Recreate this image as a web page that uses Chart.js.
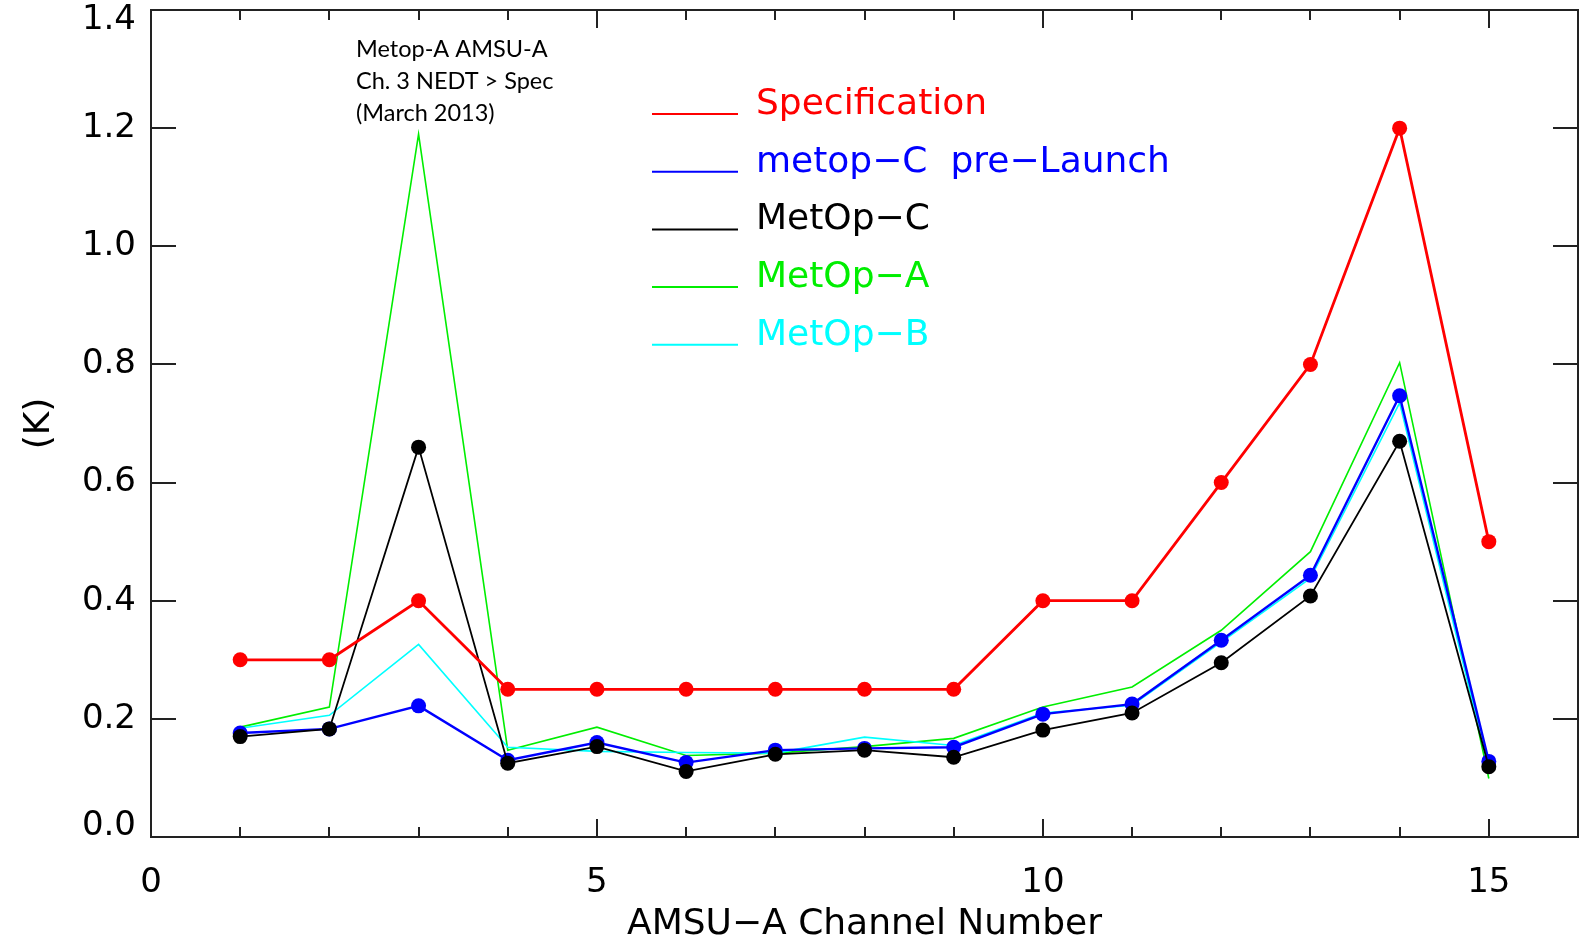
<!DOCTYPE html>
<html>
<head>
<meta charset="utf-8">
<script src="https://cdn.jsdelivr.net/npm/chart.js@4.4.1/dist/chart.umd.min.js"></script>
<style>
html, body { margin: 0; padding: 0; background: #fff; }
#wrap { width: 1580px; height: 943px; }
</style>
</head>
<body>
<div id="wrap"><canvas id="chart-nedt" width="1580" height="943"></canvas></div>
<script>
'use strict';

// Data
var channels = [1, 2, 3, 4, 5, 6, 7, 8, 9, 10, 11, 12, 13, 14, 15];
var specification = [0.30, 0.30, 0.40, 0.25, 0.25, 0.25, 0.25, 0.25, 0.25, 0.40, 0.40, 0.60, 0.80, 1.20, 0.50];
var metopCPreLaunch = [0.176, 0.183, 0.222, 0.130, 0.160, 0.126, 0.147, 0.150, 0.152, 0.208, 0.225, 0.333, 0.443, 0.747, 0.128];
var metopC = [0.170, 0.183, 0.660, 0.125, 0.153, 0.111, 0.140, 0.147, 0.135, 0.181, 0.210, 0.295, 0.408, 0.670, 0.119];
var metopA = [0.186, 0.220, 1.190, 0.147, 0.186, 0.138, 0.142, 0.153, 0.167, 0.220, 0.254, 0.350, 0.483, 0.803, 0.099];
var metopB = [0.184, 0.206, 0.326, 0.152, 0.145, 0.143, 0.142, 0.169, 0.155, 0.210, 0.223, 0.330, 0.438, 0.735, 0.116];
var xTickLabels = [0, 5, 10, 15];
var yTicks = [0, 0.2, 0.4, 0.6, 0.8, 1.0, 1.2, 1.4];
var legendLabels = ['Specification', 'metop\u2212C  pre\u2212Launch', 'MetOp\u2212C', 'MetOp\u2212A', 'MetOp\u2212B'];
var legendColors = ['#ff0000', '#0000ff', '#000000', '#00ee00', '#00ffff'];
var noteLines = ['Metop-A AMSU-A', 'Ch. 3 NEDT > Spec', '(March 2013)'];

var IDL_FONT = '"DejaVu Sans", sans-serif';

function points(values) {
	return channels.map(function (c, i) { return { x: c, y: values[i] }; });
}

function noPadding(scale) {
	scale.paddingTop = 0;
	scale.paddingBottom = 0;
	scale.paddingLeft = 0;
	scale.paddingRight = 0;
}

// Inward tick marks, frame, legend and note
var framePlugin = {
	id: 'frame',
	afterDraw: function (chart) {
		var ctx = chart.ctx;
		var a = chart.chartArea;
		var xs = chart.scales.x;
		var ys = chart.scales.y;
		ctx.save();
		ctx.strokeStyle = '#222';
		ctx.lineWidth = 2;
		ctx.strokeRect(a.left, a.top, a.right - a.left, a.bottom - a.top);
		ctx.beginPath();
		for (var i = 1; i < 16; i++) {
			var px = Math.round(xs.getPixelForValue(i));
			var len = (i % 5 === 0) ? 18 : 10;
			ctx.moveTo(px, a.bottom);
			ctx.lineTo(px, a.bottom - len);
			ctx.moveTo(px, a.top);
			ctx.lineTo(px, a.top + len);
		}
		yTicks.forEach(function (v) {
			var py = Math.round(ys.getPixelForValue(v));
			ctx.moveTo(a.left, py);
			ctx.lineTo(a.left + 25, py);
			ctx.moveTo(a.right, py);
			ctx.lineTo(a.right - 25, py);
		});
		ctx.stroke();

		// legend
		ctx.font = '36px ' + IDL_FONT;
		ctx.textBaseline = 'alphabetic';
		ctx.textAlign = 'left';
		legendLabels.forEach(function (label, i) {
			var y = 114 + i * 57.7;
			ctx.strokeStyle = legendColors[i];
			ctx.lineWidth = 2;
			ctx.beginPath();
			ctx.moveTo(652, y);
			ctx.lineTo(738, y);
			ctx.stroke();
			ctx.fillStyle = legendColors[i];
			ctx.fillText(label, 756, y);
		});

		// note
		ctx.font = '23.5px Lato, "Open Sans", sans-serif';
		ctx.fillStyle = '#000';
		noteLines.forEach(function (t, i) {
			ctx.fillText(t, 356, 57 + i * 32);
		});
		ctx.restore();
	}
};

var lineChart = new Chart(document.getElementById('chart-nedt'), {
	type: 'line',
	data: {
		datasets: [{
			label: legendLabels[0],
			data: points(specification),
			borderColor: legendColors[0],
			backgroundColor: legendColors[0],
			borderWidth: 2.8,
			pointRadius: 7.5,
			pointBorderWidth: 0
		}, {
			label: legendLabels[2],
			data: points(metopC),
			borderColor: legendColors[2],
			backgroundColor: legendColors[2],
			borderWidth: 1.8,
			pointRadius: 7.5,
			pointBorderWidth: 0
		}, {
			label: legendLabels[1],
			data: points(metopCPreLaunch),
			borderColor: legendColors[1],
			backgroundColor: legendColors[1],
			borderWidth: 2.4,
			pointRadius: 7.5,
			pointBorderWidth: 0
		}, {
			label: legendLabels[4],
			data: points(metopB),
			borderColor: legendColors[4],
			borderWidth: 1.6,
			pointRadius: 0
		}, {
			label: legendLabels[3],
			data: points(metopA),
			borderColor: legendColors[3],
			borderWidth: 1.6,
			pointRadius: 0
		}]
	},
	plugins: [framePlugin],
	options: {
		responsive: false,
		animation: false,
		layout: { autoPadding: false, padding: { top: 10, right: 2, left: 0, bottom: 0 } },
		plugins: {
			legend: { display: false },
			tooltip: { enabled: false }
		},
		elements: { line: { tension: 0 } },
		scales: {
			x: {
				type: 'linear',
				min: 0,
				max: 16,
				grid: { display: false, drawTicks: false },
				border: { display: false },
				afterBuildTicks: function (scale) {
					scale.ticks = xTickLabels.map(function (v) { return { value: v }; });
				},
				afterFit: function (scale) { scale.height = 106; noPadding(scale); },
				ticks: {
					padding: 26,
					color: '#000',
					maxRotation: 0,
					font: { family: IDL_FONT, size: 34 }
				},
				title: {
					display: true,
					text: 'AMSU\u2212A Channel Number',
					color: '#000',
					font: { family: IDL_FONT, size: 36, lineHeight: 1.0 },
					padding: { top: 0, bottom: 0 }
				}
			},
			y: {
				min: 0,
				max: 1.4,
				grid: { display: false, drawTicks: false },
				border: { display: false },
				afterBuildTicks: function (scale) {
					scale.ticks = yTicks.map(function (v) { return { value: v }; });
				},
				afterFit: function (scale) { scale.width = 151; noPadding(scale); },
				ticks: {
					padding: 15,
					color: '#000',
					font: function (c) {
						var edge = c.index === 0 || c.index === yTicks.length - 1;
						return { family: IDL_FONT, size: 34, lineHeight: edge ? 0.62 : 1.2 };
					},
					callback: function (v, i) {
						var s = Number(v).toFixed(1);
						if (i === 0) { return [s, '']; }
						if (i === yTicks.length - 1) { return ['', s]; }
						return s;
					}
				},
				title: {
					display: true,
					text: '(K)',
					color: '#000',
					font: { family: IDL_FONT, size: 36 },
					padding: { top: 18, bottom: 0 }
				}
			}
		}
	}
});
</script>
</body>
</html>
